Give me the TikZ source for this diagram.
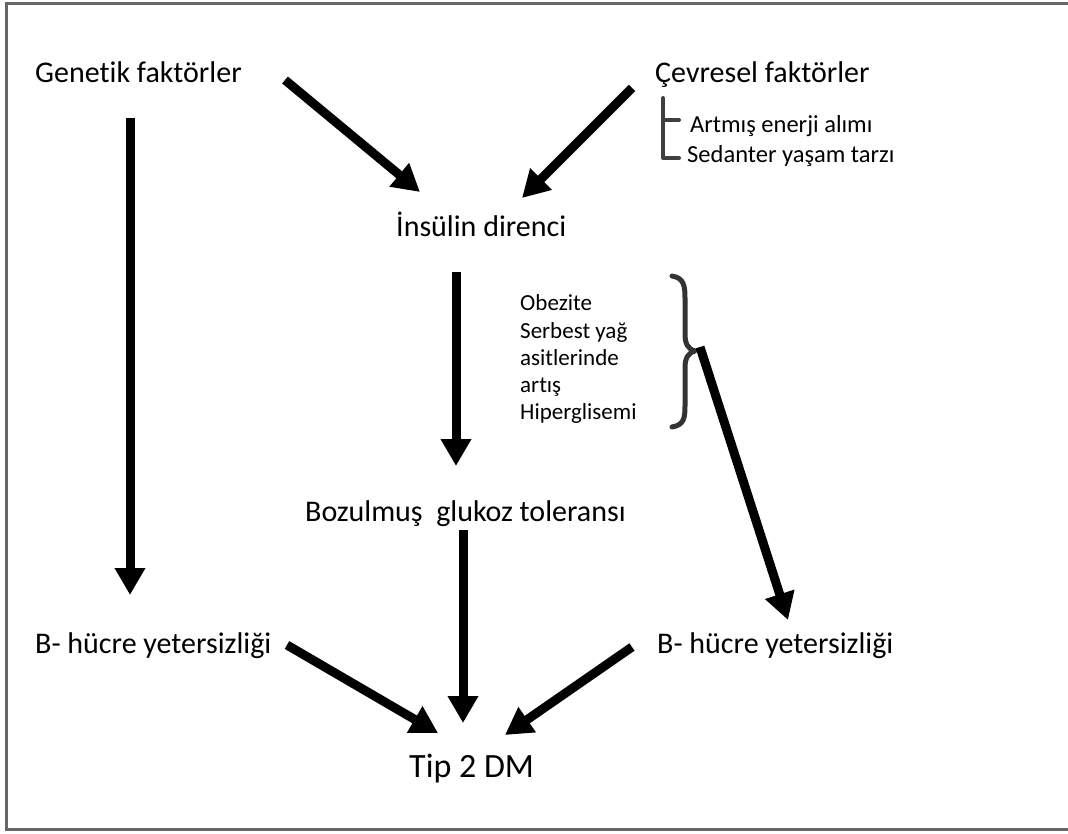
\documentclass[tikz,border=0pt]{standalone}
\usepackage{fontspec}
\setmainfont[Ligatures=NoCommon]{Carlito}
\usetikzlibrary{arrows.meta}
\begin{document}
\begin{tikzpicture}[x=1pt,y=-1pt,
  lbl/.style={font=\fontsize{30}{32}\selectfont, inner sep=0pt, anchor=base west},
  note/.style={font=\fontsize{24.5}{26}\selectfont, inner sep=0pt, anchor=base west},
  cause/.style={font=\fontsize{23}{27}\selectfont, inner sep=0pt, anchor=base west},
  result/.style={font=\fontsize{34}{36}\selectfont, inner sep=0pt, anchor=base west},
  flow/.style={line width=9pt, -{Triangle[width=29pt,length=27pt]}},
  brk/.style={line width=4pt, black!75, line cap=round, line join=round},
  brace/.style={line width=5pt, black!80, line cap=round, line join=round},
]
\useasboundingbox (0,0) rectangle (1068,834);
% frame
\draw[gray!80!black, line width=3pt] (1068,4) -- (6,4) -- (6,829) -- (1068,829);

% labels
\node[lbl] (gen) at (35,83) {Genetik faktörler};
\node[lbl] (cev) at (655,83) {Çevresel faktörler};
\node[note] (art) at (690,133) {Artmış enerji alımı};
\node[note] (sed) at (687,163) {Sedanter yaşam tarzı};
\node[lbl] (ins) at (396,237) {İnsülin direnci};
\node[cause] (obz) at (520,311) {Obezite};
\node[cause] (syg) at (520,338) {Serbest yağ};
\node[cause] (asi) at (520,365) {asitlerinde};
\node[cause] (ari) at (520,392) {artış};
\node[cause] (hip) at (520,419) {Hiperglisemi};
\node[lbl] (boz) at (305,521) {Bozulmuş \ glukoz toleransı};
\node[lbl] (bl) at (35,653) {B- hücre yetersizliği};
\node[lbl] (br) at (657,653) {B- hücre yetersizliği};
\node[result] (dm) at (409,777) {Tip 2 DM};

% bracket grouping the environmental factors
\draw[brk] (663,98) -- (663,158) -- (679,158);
\draw[brk] (663,120) -- (679,120);

% curly brace grouping the listed causes
\draw[brace] (672,276) .. controls (684,278) and (685,286) .. (685,298)
  -- (685,334) .. controls (685,344) and (688,349) .. (695,351)
  .. controls (688,353) and (685,358) .. (685,368)
  -- (685,406) .. controls (685,418) and (684,425) .. (672,427);

% arrow end points
\coordinate (g1) at (130,118);  \coordinate (g2) at (130,595);
\coordinate (a1) at (285,80);   \coordinate (a2) at (420,192);
\coordinate (c1) at (632,88);   \coordinate (c2) at (522,198);
\coordinate (i1) at (456,272);  \coordinate (i2) at (456,466);
\coordinate (s1) at (700,347);  \coordinate (s2) at (788,620);
\coordinate (t1) at (463,530);  \coordinate (t2) at (463,723);
\coordinate (l1) at (287,645);  \coordinate (l2) at (438,733);
\coordinate (r1) at (632,647);  \coordinate (r2) at (505,735);

\draw[flow] (g1) -- (g2);
\draw[flow] (a1) -- (a2);
\draw[flow] (c1) -- (c2);
\draw[flow] (i1) -- (i2);
\draw[flow] (s1) -- (s2);
\draw[flow] (t1) -- (t2);
\draw[flow] (l1) -- (l2);
\draw[flow] (r1) -- (r2);
\end{tikzpicture}
\end{document}
